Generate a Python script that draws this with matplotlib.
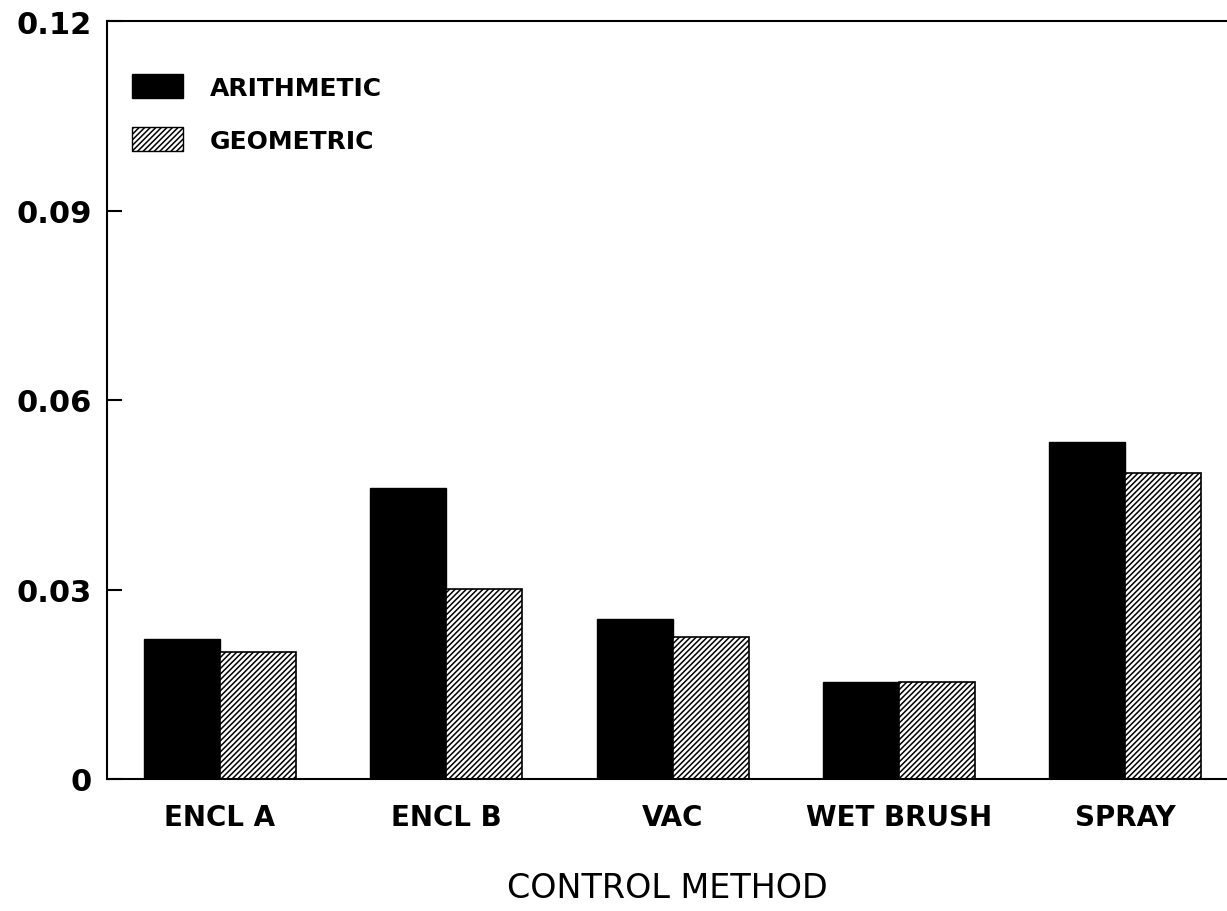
import numpy as np
import matplotlib
matplotlib.use("Agg")
import matplotlib.pyplot as plt
from matplotlib.patches import Patch

methods = ["ENCL A", "ENCL B", "VAC", "WET BRUSH", "SPRAY"]
arithmetic = [0.0222, 0.0461, 0.0254, 0.0154, 0.0534]
geometric = [0.0201, 0.0301, 0.0225, 0.0154, 0.0485]
yticks = [0, 0.03, 0.06, 0.09, 0.12]
ytick_labels = ["0", "0.03", "0.06", "0.09", "0.12"]

plt.rcParams["font.family"] = ["DejaVu Sans"]
plt.rcParams["hatch.linewidth"] = 1.1

fig = plt.figure(figsize=(12.27, 9.12), dpi=100)
ax = fig.add_axes([107 / 1227, 1 - 780 / 912, 1 - 107 / 1227, (780 - 22) / 912])

x = np.arange(len(methods))
w = 0.336
ax.bar(x - w / 2, arithmetic, width=w, color="black", edgecolor="black", linewidth=1)
ax.bar(x + w / 2, geometric, width=w, color="white", edgecolor="black",
       linewidth=1.2, hatch="//////")

ax.set_xlim(-0.499, 4.45)
ax.set_ylim(0, 0.12)
ax.set_yticks(yticks)
ax.set_yticklabels(ytick_labels, fontsize=22, fontweight="bold")
ax.set_xticks(x)
ax.set_xticklabels(methods, fontsize=20, fontweight="bold")
ax.tick_params(axis="y", direction="in", length=11, width=1.5, pad=11)
ax.tick_params(axis="x", length=0, pad=17)
ax.set_xlabel("CONTROL METHOD", fontsize=24, labelpad=29)

for side in ["left", "bottom", "top"]:
    ax.spines[side].set_linewidth(1.5)
ax.spines["right"].set_visible(False)

handles = [Patch(facecolor="black", edgecolor="black"),
           Patch(facecolor="white", edgecolor="black", hatch="//////")]
ax.legend(handles, ["ARITHMETIC", "GEOMETRIC"], loc="upper left",
          bbox_to_anchor=(0.022, 0.93), frameon=False, borderpad=0,
          borderaxespad=0, handlelength=2.05, handleheight=1.1,
          labelspacing=1.1, handletextpad=1.08,
          prop={"size": 18, "weight": "bold"})

fig.savefig("out.png", dpi=100, facecolor="white")
